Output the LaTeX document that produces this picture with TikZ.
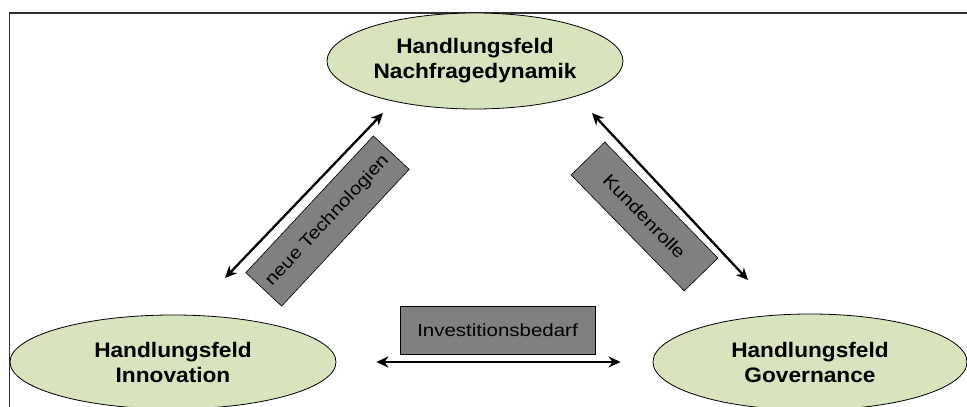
\documentclass[tikz,border=0pt]{standalone}
\usepackage{fontspec}
\setmainfont{Liberation Sans}[FakeStretch=1.17, BoldFeatures={FakeStretch=1.08}]
\usepackage{xcolor}
\usetikzlibrary{shapes.geometric,arrows.meta}
\definecolor{feldgreen}{HTML}{D7E4BD}
\definecolor{labelgray}{HTML}{808080}
\definecolor{framegray}{HTML}{303030}

\begin{document}
\begin{tikzpicture}[x=1pt, y=1pt,
	feld/.style={ellipse, draw=black, line width=.8pt, fill=feldgreen, align=center,
		font=\fontsize{21}{25}\selectfont\bfseries, inner xsep=-12pt, inner ysep=0pt},
	label box/.style={draw=black, line width=.6pt, fill=labelgray,
		font=\fontsize{17.5}{20}\selectfont, inner sep=0pt},
	twoway/.style={line width=2.3pt, {Stealth[length=12pt,width=11pt]}-{Stealth[length=12pt,width=11pt]}}]
	\useasboundingbox (0,0) rectangle (967,407);

	% frame
	\draw[framegray, line width=1.5pt] (9.5,0) -- (9.5,394) -- (967,394);

	% fields
	\node[feld, minimum width=296, minimum height=96] (nachfrage) at (475,346) {Handlungsfeld\\Nachfragedynamik};
	\node[feld, minimum width=326, minimum height=94] (innovation) at (173,45) {Handlungsfeld\\Innovation};
	\node[feld, minimum width=314, minimum height=96] (governance) at (810,45) {Handlungsfeld\\Governance};

	% arrow ends
	\coordinate (tech a) at (225,129);
	\coordinate (tech b) at (383,294);
	\coordinate (kunde a) at (592,294);
	\coordinate (kunde b) at (748,127);

	\draw[twoway] (tech a) -- (tech b);
	\draw[twoway] (kunde a) -- (kunde b);
	\draw[twoway, shorten <=40pt, shorten >=32pt] (innovation.east) -- (governance.west);

	% labels
	\node[label box, minimum width=187, minimum height=49, rotate=47] (tech) at (327.5,186) {neue Technologien};
	\node[label box, minimum width=162, minimum height=47, rotate=-45.7] (kunde) at (644.5,190.5) {Kundenrolle};
	\node[label box, minimum width=195, minimum height=48] (invest) at (497.5,77) {Investitionsbedarf};
\end{tikzpicture}
\end{document}
